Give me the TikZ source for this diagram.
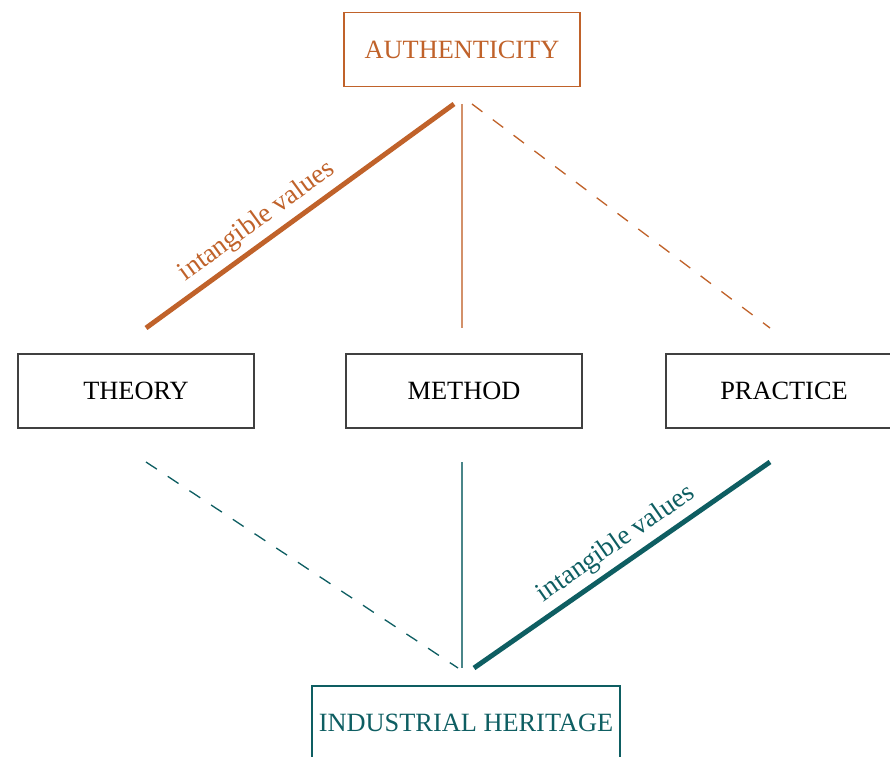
\documentclass[tikz,border=0pt]{standalone}
\usepackage{fontspec}
\setmainfont{Liberation Serif}
\usepackage{tikz}
\usepackage{xcolor}
\definecolor{rust}{RGB}{192,98,42}
\definecolor{deepteal}{RGB}{14,94,98}

\begin{document}
\begin{tikzpicture}[x=0.02cm, y=-0.02cm,
    box/.style={draw, line width=0.8pt, minimum width=4.72cm, minimum height=1.48cm,
        font=\fontsize{15}{18}\selectfont},
    thinlink/.style={line width=0.8pt},
    dashlink/.style={line width=0.75pt, dash pattern=on 7.4pt off 7.4pt},
    strong/.style={line width=2.8pt},
    tag/.style={font=\fontsize{15.5}{18}\selectfont, sloped, above}]
    \useasboundingbox (0,0) rectangle (890,757);

    % Top and bottom notions
    \node[box, rust] (auth) at (462,49.5) {AUTHENTICITY};
    \node[box, deepteal, minimum width=6.16cm] (heritage) at (466,723) {INDUSTRIAL HERITAGE};

    % The three middle terms
    \node[box, draw=black!75] (theory) at (136,391) {THEORY};
    \node[box, draw=black!75] (method) at (464,391) {METHOD};
    \node[box, draw=black!75] (practice) at (784,391) {PRACTICE};

    % Line ends (the lines stop short of the boxes)
    \coordinate (a1) at (454,104);
    \coordinate (a2) at (462,104);
    \coordinate (a3) at (472,104);
    \coordinate (t1) at (146,328);
    \coordinate (m1) at (462,328);
    \coordinate (p1) at (770,328);
    \coordinate (t2) at (146,462);
    \coordinate (m2) at (462,462);
    \coordinate (p2) at (770,462);
    \coordinate (h1) at (458,668);
    \coordinate (h2) at (462,668);
    \coordinate (h3) at (474,668);

    % Authenticity links
    \draw[strong, rust] (t1) -- (a1) node[tag, pos=0.4] {intangible values};
    \draw[thinlink, rust!70] (a2) -- (m1);
    \draw[dashlink, rust] (a3) -- (p1);

    % Heritage links
    \draw[dashlink, deepteal] (t2) -- (h1);
    \draw[thinlink, deepteal!75] (m2) -- (h2);
    \draw[strong, deepteal] (h3) -- (p2) node[tag, pos=0.52] {intangible values};
\end{tikzpicture}
\end{document}
